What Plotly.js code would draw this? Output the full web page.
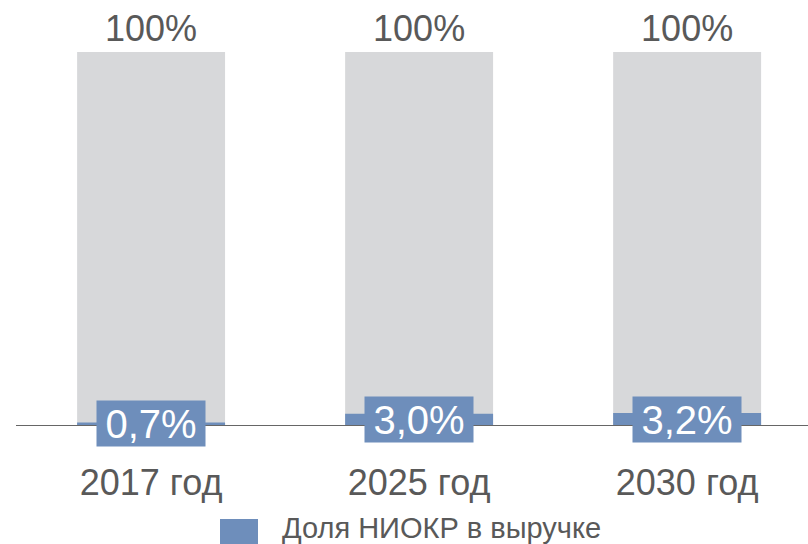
<!DOCTYPE html>
<html>
<head>
<meta charset="utf-8">
<script src="https://cdn.plot.ly/plotly-3.0.1.min.js"></script>
<style>html,body{margin:0;padding:0;background:#fff;}#chart{width:808px;height:544px;}</style>
</head>
<body>
<div id="chart"></div>
<script>
const categories = ['2017 год', '2025 год', '2030 год'];
const totalValues = [100, 100, 100];
const shareValues = [0.7, 3.0, 3.2];
const seriesName = 'Доля НИОКР в выручке';

const grey = '#d7d8da';
const blue = '#6e8ebb';
const textGrey = '#595959';
const fontFamily = '"Liberation Sans", Arial, sans-serif';

const fmt = v => v.toFixed(1).replace('.', ',') + '%';

const traces = [
  {
    type: 'bar', x: categories, y: totalValues, width: 0.552,
    marker: {color: grey, line: {width: 0}},
    text: totalValues.map(v => v + '%'), textposition: 'outside',
    textfont: {family: fontFamily, size: 36, color: textGrey},
    cliponaxis: false, showlegend: false, hoverinfo: 'skip'
  },
  {
    type: 'bar', x: categories, y: shareValues, width: 0.552, name: seriesName,
    marker: {color: blue, line: {width: 0}}, showlegend: false
  }
];

const annotations = categories.map((c, i) => ({
  x: c, y: shareValues[i] / 2, xref: 'x', yref: 'y',
  text: fmt(shareValues[i]), showarrow: false,
  xanchor: 'center', yanchor: 'middle',
  bgcolor: blue, borderpad: 0, width: 108, height: 45,
  font: {family: fontFamily, size: 40, color: '#ffffff'}
}));

// legend entry
annotations.push({
  x: (280 - 16) / 792, y: -0.276, xref: 'paper', yref: 'paper',
  xanchor: 'left', yanchor: 'middle', showarrow: false,
  text: seriesName, font: {family: fontFamily, size: 29, color: textGrey}
});

const layout = {
  width: 808, height: 544,
  margin: {l: 16, r: 0, t: 52, b: 119, pad: 0},
  paper_bgcolor: '#ffffff', plot_bgcolor: '#ffffff',
  barmode: 'overlay',
  showlegend: false,
  font: {family: fontFamily, color: textGrey},
  xaxis: {
    type: 'category', range: [-0.504, 2.451], fixedrange: true,
    showline: true, linecolor: '#666666', linewidth: 1.3,
    showgrid: false, zeroline: false, ticks: '',
    tickfont: {family: fontFamily, size: 36, color: textGrey},
    ticklabelstandoff: 25
  },
  yaxis: {
    range: [0, 100], visible: false, showgrid: false, zeroline: false, fixedrange: true
  },
  annotations: annotations,
  shapes: [{
    type: 'rect', xref: 'paper', yref: 'paper',
    x0: (220 - 16) / 792, x1: (258 - 16) / 792,
    y0: (425 - 519) / 373, y1: (425 - 546) / 373,
    fillcolor: blue, line: {width: 0}
  }]
};

Plotly.newPlot('chart', traces, layout, {displayModeBar: false, staticPlot: true});
</script>
</body>
</html>
